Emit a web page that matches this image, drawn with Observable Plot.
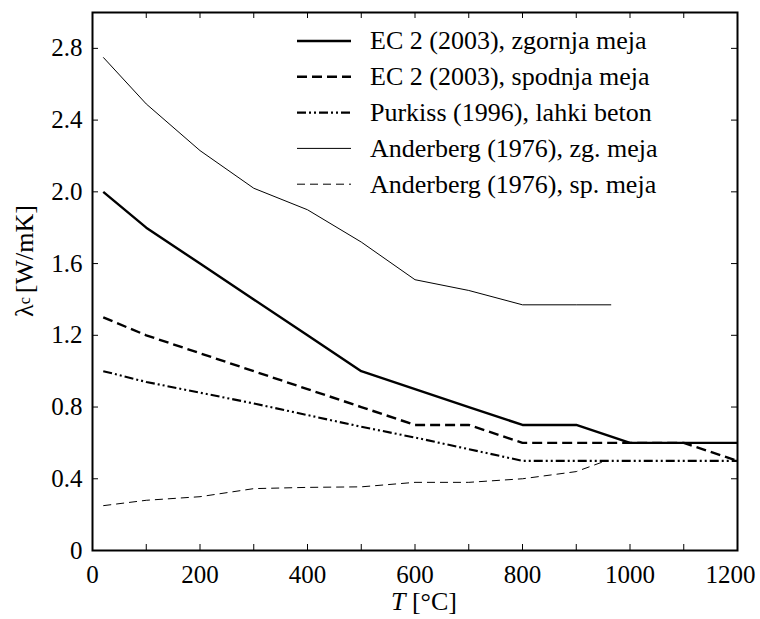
<!DOCTYPE html>
<html>
<head>
<meta charset="utf-8">
<script src="https://cdn.jsdelivr.net/npm/d3@7"></script>
<script src="https://cdn.jsdelivr.net/npm/@observablehq/plot@0.6"></script>
<style>
  html, body { margin: 0; padding: 0; background: #fff; }
  #chart { position: relative; width: 760px; height: 619px; }
  #chart svg, #chart svg text { font-family: "Liberation Serif", "Times New Roman", serif !important; }
</style>
</head>
<body>
<div id="chart"></div>
<script>
// ---- data ----
const seriesNames = [
  "EC 2 (2003), zgornja meja",
  "EC 2 (2003), spodnja meja",
  "Purkiss (1996), lahki beton",
  "Anderberg (1976), zg. meja",
  "Anderberg (1976), sp. meja"
];
const ec2UpperT = [20, 100, 200, 300, 400, 500, 600, 700, 800, 900, 1000, 1100, 1200];
const ec2UpperV = [2.0, 1.8, 1.6, 1.4, 1.2, 1.0, 0.9, 0.8, 0.7, 0.7, 0.6, 0.6, 0.6];
const ec2LowerT = [20, 100, 200, 300, 400, 500, 600, 700, 800, 900, 1000, 1100, 1200];
const ec2LowerV = [1.3, 1.2, 1.1, 1.0, 0.9, 0.8, 0.7, 0.7, 0.6, 0.6, 0.6, 0.6, 0.5];
const purkissT = [20, 100, 200, 300, 400, 500, 600, 700, 800, 900, 1000, 1100, 1200];
const purkissV = [1.0, 0.94, 0.88, 0.82, 0.755, 0.69, 0.63, 0.565, 0.5, 0.5, 0.5, 0.5, 0.5];
const andUpperT = [20, 100, 200, 300, 400, 500, 600, 700, 800, 900, 965];
const andUpperV = [2.75, 2.49, 2.23, 2.02, 1.9, 1.72, 1.51, 1.45, 1.37, 1.37, 1.37];
const andLowerT = [20, 100, 200, 300, 400, 500, 600, 700, 800, 900, 955];
const andLowerV = [0.25, 0.28, 0.30, 0.345, 0.352, 0.355, 0.38, 0.38, 0.40, 0.44, 0.5];
const xTicks = [0, 200, 400, 600, 800, 1000, 1200];
const xMinorTicks = [100, 300, 500, 700, 900, 1100];
const yTicks = [0, 0.4, 0.8, 1.2, 1.6, 2.0, 2.4, 2.8];

// ---- styles per series ----
const styles = [
  {strokeWidth: 2.4, dash: null},
  {strokeWidth: 2.4, dash: "10,5"},
  {strokeWidth: 2.1, dash: "9,3,2,3,2,3"},
  {strokeWidth: 1, dash: null},
  {strokeWidth: 1, dash: "8,5"}
];
const xs = [ec2UpperT, ec2LowerT, purkissT, andUpperT, andLowerT];
const vs = [ec2UpperV, ec2LowerV, purkissV, andUpperV, andLowerV];
const rows = seriesNames.map((name, i) => xs[i].map((t, j) => ({series: name, T: t, v: vs[i][j]})));

const W = 760, H = 619;
const mL = 92, mR = 23, mT = 12, mB = 69;
const innerH = H - mT - mB, innerW = W - mL - mR;
const tickLen = 6;

const lineMarks = rows.map((data, i) => Plot.line(data, {
  x: "T", y: "v", stroke: "black",
  strokeWidth: styles[i].strokeWidth,
  strokeDasharray: styles[i].dash,
  strokeLinejoin: "miter", strokeLinecap: "butt"
}));

const fmtY = d => d === 0 ? "0" : d.toFixed(1);
const lastX = xTicks[xTicks.length - 1];

const svg = Plot.plot({
  width: W, height: H,
  marginLeft: mL, marginRight: mR, marginTop: mT, marginBottom: mB,
  style: {background: "white", color: "black"},
  x: {domain: [0, 1200], label: null},
  y: {domain: [0, 3.0], label: null},
  marks: [
    ...lineMarks,
    // inward ticks
    Plot.tickX([...xTicks, ...xMinorTicks], {x: d => d, insetTop: innerH - tickLen, stroke: "black", strokeWidth: 1}),
    Plot.tickX([...xTicks, ...xMinorTicks], {x: d => d, insetBottom: innerH - tickLen, stroke: "black", strokeWidth: 1}),
    Plot.tickY(yTicks, {y: d => d, insetRight: innerW - tickLen, stroke: "black", strokeWidth: 1}),
    Plot.tickY(yTicks, {y: d => d, insetLeft: innerW - tickLen, stroke: "black", strokeWidth: 1}),
    Plot.axisX(xTicks.slice(0, -1), {tickSize: 0, tickPadding: 15, fontSize: 25, tickFormat: d => String(d), label: null}),
    Plot.axisX([lastX], {tickSize: 0, tickPadding: 15, fontSize: 25, dx: -7, tickFormat: d => String(d), label: null}),
    Plot.axisY(yTicks, {tickSize: 0, tickPadding: 10, fontSize: 25, tickFormat: fmtY, label: null}),
    Plot.frame({stroke: "black", strokeWidth: 2})
  ]
});
document.getElementById("chart").appendChild(svg);

// ---- axis labels with sub/italic ----
const s = d3.select(svg);
const yl = s.append("text")
  .attr("transform", `translate(33,261) rotate(-90)`)
  .attr("text-anchor", "middle")
  .attr("font-size", 26).attr("fill", "black");
yl.append("tspan").text("λ");
yl.append("tspan").attr("font-size", 16).attr("dy", -3).text("c");
yl.append("tspan").attr("dy", 3).attr("dx", 4).text("[W/mK]");

const xl = s.append("text")
  .attr("x", 424).attr("y", 610)
  .attr("text-anchor", "middle")
  .attr("font-size", 26).attr("fill", "black");
xl.append("tspan").attr("font-style", "italic").text("T");
xl.append("tspan").text(" [°C]");

// ---- legend ----
const lg = s.append("g").attr("text-anchor", "start");
const rowY0 = 41, rowStep = 35.8;
seriesNames.forEach((name, i) => {
  const y = rowY0 + i * rowStep;
  lg.append("line")
    .attr("x1", 297).attr("x2", 351).attr("y1", y).attr("y2", y)
    .attr("stroke", "black").attr("stroke-width", styles[i].strokeWidth)
    .attr("stroke-dasharray", styles[i].dash);
  lg.append("text")
    .attr("x", 370).attr("y", y).attr("dy", "0.32em")
    .attr("text-anchor", "start")
    .attr("font-size", 26).attr("fill", "black")
    .text(name);
});
</script>
</body>
</html>
